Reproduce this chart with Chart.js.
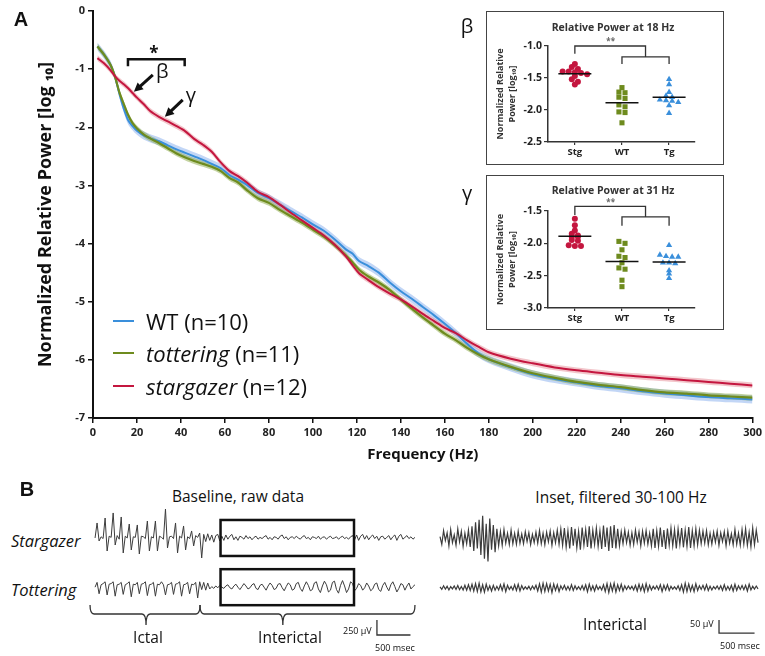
<!DOCTYPE html>
<html>
<head>
<meta charset="utf-8">
<script src="https://cdn.jsdelivr.net/npm/chart.js@4.4.1/dist/chart.umd.min.js"></script>
<style>
  body { margin: 0; background: #fff; font-family: "Open Sans", sans-serif; color: #111; }
  #page { position: relative; width: 765px; height: 656px; overflow: hidden; }
  canvas { position: absolute; }
  .c { position: absolute; white-space: nowrap; line-height: 1; transform: translate(-50%, -50%); }
  .l { position: absolute; white-space: nowrap; line-height: 1; transform: translateY(-50%); }
  .box { position: absolute; border: 1.5px solid #444; box-sizing: border-box; background: #fff; }
  .key { position: absolute; width: 21px; height: 2px; }
</style>
</head>
<body>
<div id="page">
  <canvas id="spectrum" width="765" height="470" style="left:0;top:0"></canvas>
  <div class="c" style="left:21px;top:19px;font:bold 20px Arial,sans-serif">A</div>

  <!-- legend -->
  <div class="key" style="left:113px;top:320px;background:#3a8fdb"></div>
  <div class="l" style="left:146px;top:321px;font-size:22px">WT (n=10)</div>
  <div class="key" style="left:113px;top:352px;background:#6e8b1e"></div>
  <div class="l" style="left:146px;top:353px;font-size:22px"><i>tottering</i> (n=11)</div>
  <div class="key" style="left:113px;top:385px;background:#c4163f"></div>
  <div class="l" style="left:146px;top:386px;font-size:22px"><i>stargazer</i> (n=12)</div>

  <!-- inset boxes -->
  <div class="c" style="left:467px;top:26px;font-size:20px">β</div>
  <div class="box" style="left:486px;top:11px;width:238px;height:154px"></div>
  <canvas id="beta" width="238" height="154" style="left:486px;top:11px"></canvas>
  <div class="c" style="left:613px;top:27px;font-weight:bold;font-size:10.5px;color:#333">Relative Power at 18 Hz</div>

  <div class="c" style="left:467px;top:193px;font-size:20px">γ</div>
  <div class="box" style="left:486px;top:175px;width:238px;height:155px"></div>
  <canvas id="gamma" width="238" height="155" style="left:486px;top:175px"></canvas>
  <div class="c" style="left:613px;top:190px;font-weight:bold;font-size:10.5px;color:#333">Relative Power at 31 Hz</div>

  <!-- panel B -->
  <div class="c" style="left:27px;top:489px;font:bold 20px Arial,sans-serif">B</div>
  <div class="c" style="left:238px;top:497px;font-size:15.5px">Baseline, raw data</div>
  <div class="c" style="left:621px;top:498px;font-size:15.5px">Inset, filtered 30-100 Hz</div>
  <div class="l" style="left:11px;top:541px;font-size:16.5px;font-style:italic">Stargazer</div>
  <div class="l" style="left:11px;top:590px;font-size:16.5px;font-style:italic">Tottering</div>
  <canvas id="raw" width="335" height="150" style="left:85px;top:500px"></canvas>
  <canvas id="filtered" width="335" height="150" style="left:430px;top:500px"></canvas>
  <div class="c" style="left:148px;top:638px;font-size:15.5px">Ictal</div>
  <div class="c" style="left:290px;top:638px;font-size:15.5px">Interictal</div>
  <div class="c" style="left:615px;top:625px;font-size:15.5px">Interictal</div>
  <div class="l" style="left:343px;top:630px;font-size:9px">250 µV</div>
  <div class="l" style="left:375px;top:647px;font-size:9px">500 msec</div>
  <div class="l" style="left:690px;top:623px;font-size:9px">50 µV</div>
  <div class="l" style="left:720px;top:645px;font-size:9px">500 msec</div>
</div>

<script>
Chart.defaults.font.family = "'Open Sans', sans-serif";

// ---- panel A: power spectra (log10 relative power) ----
const freqHz = [2, 5, 8, 10, 12, 14, 16, 18, 20, 23, 26, 30, 34, 38, 42, 46, 50, 54, 58, 62,
  66, 70, 75, 80, 85, 90, 95, 100, 105, 110, 115, 118, 121, 125, 130, 135, 140, 145, 150, 155,
  160, 165, 170, 175, 180, 190, 200, 210, 220, 230, 240, 250, 260, 270, 280, 290, 300];
const powerWT = [-0.61, -0.75, -0.93, -1.13, -1.42, -1.68, -1.88, -1.98, -2.06, -2.14, -2.19, -2.24, -2.31, -2.38, -2.44, -2.50, -2.56, -2.63, -2.70, -2.82,
  -2.90, -2.99, -3.13, -3.22, -3.33, -3.44, -3.55, -3.67, -3.78, -3.93, -4.10, -4.17, -4.30, -4.38, -4.50, -4.67, -4.82, -4.95, -5.09, -5.23,
  -5.38, -5.54, -5.72, -5.88, -5.99, -6.13, -6.25, -6.33, -6.39, -6.45, -6.49, -6.54, -6.58, -6.61, -6.64, -6.66, -6.68];
const powerTottering = [-0.61, -0.75, -0.93, -1.13, -1.40, -1.60, -1.79, -1.93, -2.02, -2.12, -2.19, -2.27, -2.36, -2.45, -2.52, -2.58, -2.63, -2.68, -2.75, -2.87,
  -2.95, -3.08, -3.22, -3.30, -3.42, -3.53, -3.64, -3.76, -3.88, -4.03, -4.20, -4.32, -4.45, -4.56, -4.67, -4.80, -4.96, -5.12, -5.27, -5.41,
  -5.55, -5.66, -5.79, -5.90, -5.99, -6.12, -6.23, -6.31, -6.38, -6.43, -6.47, -6.52, -6.56, -6.58, -6.61, -6.63, -6.65];
const powerStargazer = [-0.81, -0.90, -1.02, -1.12, -1.20, -1.26, -1.33, -1.41, -1.49, -1.60, -1.72, -1.82, -1.90, -1.98, -2.07, -2.20, -2.30, -2.42, -2.60, -2.75,
  -2.84, -2.95, -3.11, -3.20, -3.33, -3.47, -3.60, -3.73, -3.86, -4.02, -4.22, -4.37, -4.51, -4.62, -4.75, -4.86, -4.96, -5.08, -5.21, -5.33,
  -5.45, -5.54, -5.66, -5.77, -5.87, -5.98, -6.06, -6.13, -6.18, -6.22, -6.26, -6.29, -6.32, -6.35, -6.38, -6.41, -6.44];
// SEM half-widths of the shaded bands
const semWT = 0.07;
const semTottering = 0.05;
const semStargazer = 0.05;

// ---- insets: single animals at 18 Hz (beta) and 31 Hz (gamma) ----
const groupLabels = ['Stg', 'WT', 'Tg'];
const beta18Stg = [-1.28, -1.33, -1.36, -1.40, -1.40, -1.41, -1.42, -1.44, -1.47, -1.52, -1.56, -1.60];
const beta18WT = [-1.65, -1.72, -1.73, -1.80, -1.82, -1.92, -1.95, -2.03, -2.04, -2.20];
const beta18Tg = [-1.52, -1.60, -1.72, -1.78, -1.80, -1.84, -1.85, -1.86, -1.88, -1.93, -2.05];
const gamma31Stg = [-1.62, -1.72, -1.80, -1.85, -1.88, -1.90, -1.90, -1.95, -1.96, -2.03, -2.04, -2.04];
const gamma31WT = [-1.97, -2.00, -2.10, -2.20, -2.22, -2.30, -2.38, -2.40, -2.57, -2.67];
const gamma31Tg = [-2.03, -2.18, -2.20, -2.21, -2.21, -2.30, -2.30, -2.31, -2.42, -2.47, -2.54];

// ---- panel B: EEG traces (µV), raw sampled every 30 ms, filtered every 25 ms ----
const rawStargazer = [
  0, 250, -50, 20, -10, 333, -217, 30, 10, 417,
  -117, 40, -20, 350, -250, 30, 0, 233, -200, 20,
  10, 217, -267, 30, 20, -10, 283, -217, 20, 0,
  283, -217, 30, 10, -20, 483, -167, 20, 30, -10,
  250, -250, 30, 0, 200, -200, 20, -10, 117, -133,
  40, 10, 83, -333, 60,
  -60, 70, -40, 50, -70, 40, 60, -50, 30, -40,
  50, -20, 30, 60, -30, 20, -40, 30, 10, -20,
  40, -10, 20, -30, 10, 30, -20, 10, -10, 20,
  40, -20, 10, -30, 20, 10, -20, 30, 50, -10,
  20, -30, 10, 20, -10, 30, 0, -20, 20, 40,
  -10, 10, -30, 20, 10, -10, 30, -20, 10, 20,
  -20, 10, 30, -10, 0, 20, -20, 10, 30, -10,
  10, -20, 20, 40, -30, 50, -40, 30, 60, -20,
  40, -30, 20, 50, -10, 30, -40, 20, 30, -20,
  10, 40, -30, 20, 50, -40, 30, 60, -20, 10,
  40, -10, 20, -20, 10];
const rawTottering = [
  0, 80, -110, 40, 60, 90, -130, 50, 60, 90,
  -150, 40, 50, 80, -120, 40, 60, 90, -160, 50,
  40, 80, -110, 50, 60, 90, -140, 40, 50, 80,
  -150, 50, 40, 90, 40, -130, 40, 50, 80, -120,
  50, 60, 90, -150, 40, 50, 80, -110, 50, 40,
  80, -180, 90, -40, 80, -50, 70,
  -30, 10, -20, 20, -10, 30, 0, -20, 20, 40,
  -10, -30, 20, 50, 0, -40, 10, 60, 20, -30,
  -10, 40, 60, -20, -40, 30, 50, 0, -50, 20,
  70, 30, -40, -20, 50, 60, -10, -60, 10, 70,
  40, -50, -30, 60, 80, -20, -70, 20, 90, 30,
  -60, -40, 70, 90, -30, -90, 20, 100, 40, -80,
  -50, 80, 100, -40, -100, 30, 110, 20, -90, -30,
  90, 60, -60, -20, 60, 30, -50, -10, 70, 20,
  -60, -30, 50, 70, -40, -70, 30, 80, 0, -60,
  40, 90, 10, -80, -20, 60, 40, -50, 20, 70,
  -30, 10, 40];
const filtStargazer = [
  5, -25, 28, -10, 20, -30, 32, -18, 12, -28,
  35, -15, 25, -32, 18, -22, 30, -35, 45, -50,
  60, -40, 70, -65, 85, -80, 55, -90, 75, -45,
  50, -55, 35, -30, 25, -28, 32, -20, 18, -25,
  30, -22, 18, -24, 26, -20, 15, -22, 24, -14,
  20, -25, 14, -18, 22, -20, 28, -22, 18, -26,
  22, -15, 26, -28, 20, -18, 30, -24, 34, -28,
  38, -35, 28, -40, 42, -30, 35, -38, 25, -45,
  40, -28, 32, -35, 45, -40, 30, -25, 38, -32,
  28, -42, 48, -35, 40, -50, 45, -38, 50, -40,
  35, -30, 24, -22, 30, -18, 22, -28, 20, -25,
  30, -16, 24, -30, 26, -20, 28, -24, 18, -30,
  35, -38, 28, -32, 40, -35, 30, -42, 36, -28,
  38, -30, 32, -40, 35, -25, 38, -36, 30, -32,
  42, -38, 28, -30, 35, -26, 30, -22, 26, -20,
  28, -26, 18, -24, 22, -16, 26, -28, 20, -14,
  24, -30, 26, -20, 16, -26, 32, -24, 18, -28,
  32, -24, 36, -28, 22, -34, 38, -26, 30, -18];
const filtTottering = [
  4, -6, 8, -5, 6, -8, 5, -4, 7, -6, 9, -7, 5, -8, 10, -9, 12, -10, 14, -12,
  16, -14, 18, -15, 12, -16, 14, -10, 8, -12, 10, -9, 6, -8, 12, -10, 15, -14, 10, -6,
  5, -8, 12, -10, 14, -12, 9, -6, 4, -5, 6, -8, 7, -5, 10, -12, 15, -16, 18, -14,
  16, -12, 14, -18, 15, -10, 12, -14, 8, -6, 10, -8, 6, -9, 12, -10, 8, -6, 5, -7,
  9, -8, 12, -15, 14, -10, 8, -12, 10, -6, 5, -8, 12, -14, 16, -18, 15, -12, 18, -16,
  12, -10, 14, -12, 8, -6, 7, -5, 6, -8, 10, -12, 14, -10, 12, -15, 16, -12, 10, -8,
  6, -5, 8, -7, 12, -14, 10, -8, 12, -10, 6, -5, 4, -6, 8, -10, 12, -16, 18, -14,
  15, -12, 10, -14, 16, -10, 8, -6, 10, -8, 12, -10, 6, -8, 5, -4, 7, -6, 8, -10,
  12, -9, 6, -8, 10, -12, 14, -10, 8, -6, 9, -7, 10, -12, 14, -8, 6, -5, 7, -4];

const RED = '#c4163f', GREEN = '#6e8b1e', BLUE = '#3a8fdb';

// ---------------- panel A ----------------
const xy = (vals) => freqHz.map((f, i) => ({ x: f, y: vals[i] }));
const shift = (vals, d) => freqHz.map((f, i) => ({ x: f, y: vals[i] + d }));

function band(vals, sem, color, order) {
  return [
    { data: shift(vals, sem), borderWidth: 0, pointRadius: 0, fill: false, tension: 0.3, order },
    { data: shift(vals, -sem), borderWidth: 0, pointRadius: 0, fill: '-1', backgroundColor: color, tension: 0.3, order }
  ];
}

function arrow(ctx, x0, y0, x1, y1) {
  const a = Math.atan2(y1 - y0, x1 - x0), h = 9;
  ctx.beginPath();
  ctx.moveTo(x0, y0);
  ctx.lineTo(x1 - Math.cos(a) * h * 0.8, y1 - Math.sin(a) * h * 0.8);
  ctx.stroke();
  ctx.beginPath();
  ctx.moveTo(x1, y1);
  ctx.lineTo(x1 - h * Math.cos(a) + 4.5 * Math.sin(a), y1 - h * Math.sin(a) - 4.5 * Math.cos(a));
  ctx.lineTo(x1 - h * Math.cos(a) - 4.5 * Math.sin(a), y1 - h * Math.sin(a) + 4.5 * Math.cos(a));
  ctx.closePath();
  ctx.fill();
}

// significance bracket and beta/gamma arrows over the low-frequency range
const spectrumMarks = {
  id: 'spectrumMarks',
  afterDatasetsDraw(chart) {
    const { ctx, scales: { x, y } } = chart;
    const px = v => x.getPixelForValue(v), py = v => y.getPixelForValue(v);
    ctx.save();
    ctx.strokeStyle = '#111';
    ctx.fillStyle = '#111';
    ctx.lineWidth = 2.5;
    ctx.beginPath();
    ctx.moveTo(px(15.9), py(-0.95));
    ctx.lineTo(px(15.9), py(-0.83));
    ctx.lineTo(px(41.7), py(-0.83));
    ctx.lineTo(px(41.7), py(-0.95));
    ctx.stroke();
    ctx.font = 'bold 17px "Open Sans"';
    ctx.textAlign = 'center';
    ctx.textBaseline = 'middle';
    ctx.fillText('*', px(27.7), py(-0.74));

    ctx.lineWidth = 3;
    arrow(ctx, px(27.2), py(-1.10), px(18.6), py(-1.39));
    arrow(ctx, px(40.8), py(-1.53), px(32.7), py(-1.82));
    ctx.font = '20px "Open Sans"';
    ctx.fillText('β', px(31.5), py(-1.05));
    ctx.fillText('γ', px(44.5), py(-1.46));
    ctx.restore();
  }
};

new Chart(document.getElementById('spectrum'), {
  type: 'line',
  data: {
    datasets: [
      { label: 'stargazer', data: xy(powerStargazer), borderColor: RED, borderWidth: 2, pointRadius: 0, tension: 0.3, order: 0 },
      { label: 'tottering', data: xy(powerTottering), borderColor: GREEN, borderWidth: 2.2, pointRadius: 0, tension: 0.3, order: 1 },
      { label: 'WT', data: xy(powerWT), borderColor: BLUE, borderWidth: 2, pointRadius: 0, tension: 0.3, order: 2 },
      ...band(powerStargazer, semStargazer, 'rgba(226,128,140,0.45)', 3),
      ...band(powerTottering, semTottering, 'rgba(140,170,70,0.5)', 4),
      ...band(powerWT, semWT, 'rgba(120,165,235,0.45)', 5)
    ]
  },
  options: {
    responsive: false,
    animation: false,
    layout: { padding: { top: 11, right: 11, left: 0, bottom: 0 } },
    plugins: { legend: { display: false }, tooltip: { enabled: false } },
    scales: {
      x: {
        type: 'linear', min: 0, max: 300,
        ticks: { stepSize: 20, font: { weight: 'bold', size: 11 }, color: '#222', padding: 3, maxRotation: 0 },
        grid: { drawOnChartArea: false, tickLength: 5, color: '#111', lineWidth: 1.5 },
        border: { color: '#111', width: 2 },
        title: { display: true, text: 'Frequency (Hz)', font: { weight: 'bold', size: 15 }, color: '#111', padding: { top: 0, bottom: 6 } },
        afterFit: s => { s.height = 52; }
      },
      y: {
        min: -7, max: 0,
        ticks: { stepSize: 1, font: { weight: 'bold', size: 11 }, color: '#222', padding: 3 },
        grid: { drawOnChartArea: false, tickLength: 5, color: '#111', lineWidth: 1.5 },
        border: { color: '#111', width: 2 },
        title: { display: true, text: 'Normalized Relative Power [log ₁₀]', font: { weight: 'bold', size: 18 }, color: '#111', padding: { top: 35, bottom: 0 } },
        afterFit: s => { s.width = 93; }
      }
    }
  },
  plugins: [spectrumMarks]
});

// ---------------- insets ----------------
const mean = a => a.reduce((s, v) => s + v, 0) / a.length;

// spread animals with near-equal values sideways, as in a column scatter
function columnPoints(values, center) {
  const rows = [];
  [...values].sort((a, b) => b - a).forEach(v => {
    const row = rows[rows.length - 1];
    if (row && row[0] - v < 0.045) row.push(v); else rows.push([v]);
  });
  const pts = [];
  rows.forEach(row => row.forEach((v, i) => pts.push({ x: center + (i - (row.length - 1) / 2) * 0.13, y: v })));
  return pts;
}

const insetBrackets = {
  id: 'insetBrackets',
  afterDatasetsDraw(chart, args, o) {
    const { ctx, scales: { x, y } } = chart;
    const px = v => x.getPixelForValue(v), py = v => y.getPixelForValue(v);
    ctx.save();
    ctx.strokeStyle = '#333';
    ctx.lineWidth = 1.3;
    ctx.beginPath();
    ctx.moveTo(px(1), py(o.stg));
    ctx.lineTo(px(1), py(o.top));
    ctx.lineTo(px(2.5), py(o.top));
    ctx.lineTo(px(2.5), py(o.mid));
    ctx.moveTo(px(2), py(o.ends));
    ctx.lineTo(px(2), py(o.mid));
    ctx.lineTo(px(3), py(o.mid));
    ctx.lineTo(px(3), py(o.ends));
    ctx.stroke();
    ctx.fillStyle = '#666';
    ctx.font = 'bold 8px "Open Sans"';
    ctx.textAlign = 'center';
    ctx.textBaseline = 'middle';
    ctx.fillText('**', px(1.76), py(o.star));
    ctx.restore();
  }
};

function insetChart(id, groups, yMin, yMax, topPad, axisH, brackets) {
  const datasets = [];
  groups.forEach((g, i) => {
    const c = i + 1, m = mean(g.values);
    datasets.push({ data: columnPoints(g.values, c), pointStyle: g.style, pointRadius: g.r, backgroundColor: g.color, borderColor: g.color, borderWidth: 0, order: 1 });
    datasets.push({ data: [{ x: c - 0.35, y: m }, { x: c + 0.35, y: m }], showLine: true, borderColor: '#111', borderWidth: 1.5, pointRadius: 0, order: 0 });
  });
  return new Chart(document.getElementById(id), {
    type: 'scatter',
    data: { datasets },
    options: {
      responsive: false,
      animation: false,
      layout: { padding: { top: topPad, right: 29, left: 0, bottom: 0 } },
      plugins: { legend: { display: false }, tooltip: { enabled: false }, insetBrackets: brackets },
      scales: {
        x: {
          min: 0.43, max: 3.55,
          afterBuildTicks: s => { s.ticks = [1, 2, 3].map(v => ({ value: v })); },
          ticks: { callback: v => groupLabels[Math.round(v) - 1], font: { weight: 'bold', size: 9.5 }, color: '#222', padding: 2, maxRotation: 0 },
          grid: { drawOnChartArea: false, tickLength: 3, color: '#333', lineWidth: 1.2 },
          border: { color: '#333', width: 1.5 },
          afterFit: s => { s.height = axisH; }
        },
        y: {
          min: yMin, max: yMax,
          ticks: { stepSize: 0.5, callback: v => v.toFixed(1), font: { weight: 'bold', size: 10.5 }, color: '#222', padding: 2 },
          grid: { drawOnChartArea: false, tickLength: 4, color: '#333', lineWidth: 1.2 },
          border: { color: '#333', width: 1.5 },
          title: { display: true, text: ['Normalized Relative', 'Power [log₁₀]'], font: { weight: 'bold', size: 9, lineHeight: 1.35 }, color: '#333', padding: { top: 8.5, bottom: 0 } },
          afterFit: s => { s.width = 62; }
        }
      }
    },
    plugins: [insetBrackets]
  });
}

insetChart('beta', [
  { values: beta18Stg, style: 'circle', r: 3, color: RED },
  { values: beta18WT, style: 'rect', r: 3.6, color: GREEN },
  { values: beta18Tg, style: 'triangle', r: 3.6, color: BLUE }
], -2.5, -1.0, 35, 23, { top: -1.0, stg: -1.12, mid: -1.17, ends: -1.28, star: -0.93 });

insetChart('gamma', [
  { values: gamma31Stg, style: 'circle', r: 3, color: RED },
  { values: gamma31WT, style: 'rect', r: 3.6, color: GREEN },
  { values: gamma31Tg, style: 'triangle', r: 3.6, color: BLUE }
], -3.0, -1.5, 36, 22, { top: -1.43, stg: -1.56, mid: -1.59, ends: -1.73, star: -1.37 });

// ---------------- panel B ----------------
function brace(ctx, x0, xTip, x1, yTop, yMid, yTip) {
  ctx.beginPath();
  ctx.moveTo(x0, yTop);
  ctx.quadraticCurveTo(x0, yMid, x0 + 4, yMid);
  ctx.lineTo(xTip - 4, yMid);
  ctx.quadraticCurveTo(xTip, yMid, xTip, yTip);
  ctx.moveTo(xTip, yTip);
  ctx.quadraticCurveTo(xTip, yMid, xTip + 4, yMid);
  ctx.lineTo(x1 - 4, yMid);
  ctx.quadraticCurveTo(x1, yMid, x1, yTop);
  ctx.stroke();
}

// inset boxes, ictal/interictal braces and amplitude/time scale bar
const traceMarks = {
  id: 'traceMarks',
  afterDatasetsDraw(chart, args, o) {
    const { ctx, scales: { x, y } } = chart;
    const px = v => x.getPixelForValue(v), py = v => y.getPixelForValue(v);
    ctx.save();
    ctx.strokeStyle = '#111';
    ctx.lineWidth = 2.5;
    (o.boxes || []).forEach(b => {
      ctx.strokeRect(px(b.t0), py(b.hi), px(b.t1) - px(b.t0), py(b.lo) - py(b.hi));
    });
    ctx.lineWidth = 1.3;
    ctx.strokeStyle = '#333';
    (o.braces || []).forEach(b => brace(ctx, px(b.t0), px(b.tip), px(b.t1), py(o.braceTop), py(o.braceMid), py(o.braceTip)));
    const s = o.scaleBar;
    ctx.lineWidth = 1.3;
    ctx.beginPath();
    ctx.moveTo(px(s.t), py(s.v + s.uv));
    ctx.lineTo(px(s.t), py(s.v));
    ctx.lineTo(px(s.t + s.ms), py(s.v));
    ctx.stroke();
    ctx.restore();
  }
};

function traceChart(id, traces, dt, xRange, yRange, width, marks) {
  return new Chart(document.getElementById(id), {
    type: 'line',
    data: {
      datasets: traces.map(t => ({
        data: t.values.map((v, i) => ({ x: i * dt, y: v + t.offset })),
        borderColor: '#3c3c3c', borderWidth: width, pointRadius: 0, tension: 0
      }))
    },
    options: {
      responsive: false,
      animation: false,
      layout: { padding: 0 },
      plugins: { legend: { display: false }, tooltip: { enabled: false }, traceMarks: marks },
      scales: {
        x: { type: 'linear', display: false, min: xRange[0], max: xRange[1] },
        y: { display: false, min: yRange[0], max: yRange[1] }
      }
    },
    plugins: [traceMarks]
  });
}

traceChart('raw', [
  { values: rawStargazer, offset: 0 },
  { values: rawTottering, offset: -820 }
], 30, [-150, 4845], [-1867, 633], 1, {
  boxes: [
    { t0: 1871, t1: 3861, hi: 300, lo: -300 },
    { t0: 1871, t1: 3861, hi: -520, lo: -1120 }
  ],
  braces: [
    { t0: -75, tip: 760, t1: 1565 },
    { t0: 1565, tip: 2800, t1: 4770 }
  ],
  braceTop: -1117, braceMid: -1267, braceTip: -1450,
  scaleBar: { t: 4203, v: -1617, uv: 250, ms: 500 }
});

traceChart('filtered', [
  { values: filtStargazer, offset: 0 },
  { values: filtTottering, offset: -192 }
], 25, [-141, 4573], [-431, 146], 1.2, {
  boxes: [], braces: [],
  braceTop: 0, braceMid: 0, braceTip: 0,
  scaleBar: { t: 3926, v: -366, uv: 50, ms: 500 }
});
</script>
</body>
</html>
